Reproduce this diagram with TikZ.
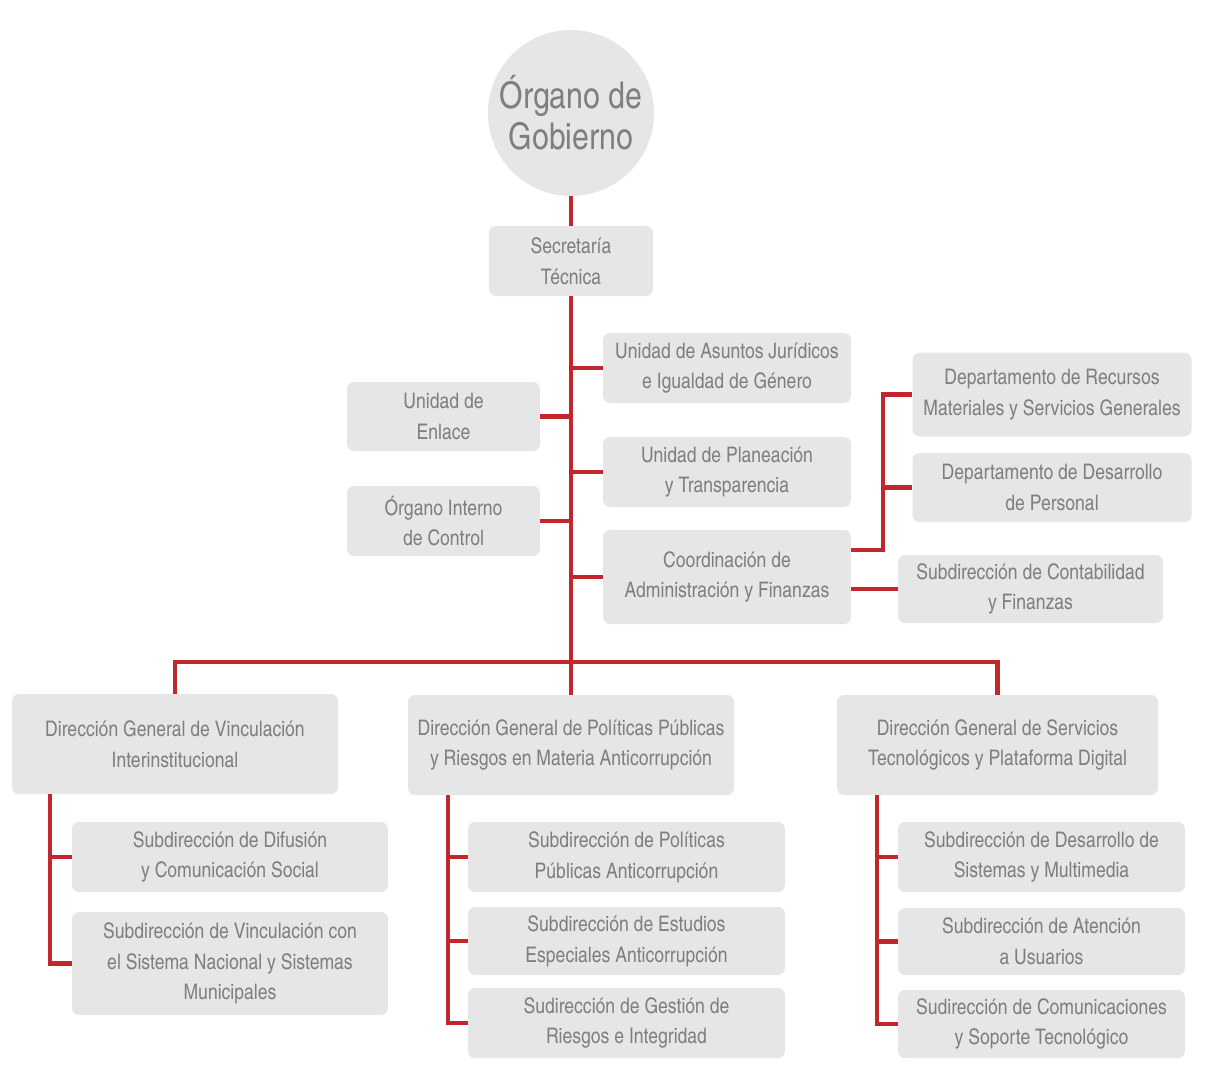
\documentclass[tikz,border=0pt]{standalone}
\usepackage{fontspec}
\setmainfont{texgyreheroscn-regular.otf}
\usetikzlibrary{positioning}
\definecolor{linkred}{HTML}{C1272D}
\definecolor{boxgray}{HTML}{E6E6E6}
\definecolor{textgray}{HTML}{7F7F7F}
\tikzset{
unit/.style={
	  fill=boxgray, rounded corners=4pt, align=center, text=textgray,
	    inner sep=0pt, font=\fontsize{12.2}{17.5}\selectfont},
ubox/.style 2 args={minimum width=#1*0.02cm, minimum height=#2*0.02cm},
link/.style={draw=linkred, line width=2.3pt}
}

\begin{document}
\begin{tikzpicture}[x=0.02cm, y=-0.02cm]
	\useasboundingbox[fill=white] (0,0) rectangle (1205,1079);
	\node[circle, fill=boxgray, text=textgray, align=center, minimum size=3.32cm,
		inner sep=0pt, font=\fontsize{21}{23.5}\selectfont] (gob) at (571,113) {Órgano de\\Gobierno};
	\node[unit, ubox={164}{70}] (sec) at (571,261) {Secretaría\\Técnica};
	\node[unit, ubox={248}{70}] (jur) at (727,368) {Unidad de Asuntos Jurídicos\\e Igualdad de Género};
	\node[unit, ubox={248}{70}] (plan) at (727,472) {Unidad de Planeación\\y Transparencia};
	\node[unit, ubox={248}{94}] (coord) at (727,577) {Coordinación de\\Administración y Finanzas};
	\node[unit, ubox={193}{69}] (enl) at (443.5,416.5) {Unidad de\\Enlace};
	\node[unit, ubox={193}{70}] (oic) at (443.5,521) {Órgano Interno\\de Control};
	\node[unit, ubox={279}{84}] (recmat) at (1052,394.5) {Departamento de Recursos\\Materiales y Servicios Generales};
	\node[unit, ubox={279}{69}] (desper) at (1052,487.5) {Departamento de Desarrollo\\de Personal};
	\node[unit, ubox={265}{68}] (cont) at (1030.5,589) {Subdirección de Contabilidad\\y Finanzas};
	\node[unit, ubox={326}{100}] (dgv) at (175,744) {Dirección General de Vinculación\\Interinstitucional};
	\node[unit, ubox={326}{100}] (dgp) at (571,745) {Dirección General de Políticas Públicas\\y Riesgos en Materia Anticorrupción};
	\node[unit, ubox={321}{100}] (dgs) at (997.5,745) {Dirección General de Servicios\\Tecnológicos y Plataforma Digital};
	\node[unit, ubox={316}{70}] (dif) at (230,857) {Subdirección de Difusión\\y Comunicación Social};
	\node[unit, ubox={316}{103}] (vin) at (230,963.5) {Subdirección de Vinculación con\\el Sistema Nacional y Sistemas\\Municipales};
	\node[unit, ubox={317}{70}] (pol) at (626.5,857) {Subdirección de Políticas\\Públicas Anticorrupción};
	\node[unit, ubox={317}{68}] (est) at (626.5,941) {Subdirección de Estudios\\Especiales Anticorrupción};
	\node[unit, ubox={317}{70}] (ges) at (626.5,1023) {Sudirección de Gestión de\\Riesgos e Integridad};
	\node[unit, ubox={287}{70}] (sis) at (1041.5,857) {Subdirección de Desarrollo de\\Sistemas y Multimedia};
	\node[unit, ubox={287}{67}] (ate) at (1041.5,941.5) {Subdirección de Atención\\a Usuarios};
	\node[unit, ubox={287}{68}] (com) at (1041.5,1024) {Sudirección de Comunicaciones\\y Soporte Tecnológico};
	\coordinate (hub) at (571,662);

	\draw[link] (gob) -- (sec);
	\draw[link] (sec.south) -- (dgp.north);
	\foreach \u in {jur, plan, coord, enl, oic}
		\draw[link] (\u) -- (\u -| sec.south);
	\draw[link] (dgv.north) |- (hub) -| (dgs.north);
	\draw[link] ([yshift=0.54cm]coord.east) -- ++(32,0) coordinate (cj) |- (recmat.west);
	\draw[link] (cj |- desper.west) -- (desper.west);
	\draw[link] (coord.east |- cont.west) -- (cont.west);
	\draw[link] ([xshift=0.76cm]dgv.south west) |- (vin.west);
	\draw[link] ([xshift=0.76cm]dgv.south west |- dif.west) -- (dif.west);
	\draw[link] ([xshift=0.8cm]dgp.south west) |- (ges.west);
	\foreach \u in {pol, est}
		\draw[link] ([xshift=0.8cm]dgp.south west |- \u.west) -- (\u.west);
	\draw[link] ([xshift=0.8cm]dgs.south west) |- (com.west);
	\foreach \u in {sis, ate}
		\draw[link] ([xshift=0.8cm]dgs.south west |- \u.west) -- (\u.west);
\end{tikzpicture}
\end{document}
